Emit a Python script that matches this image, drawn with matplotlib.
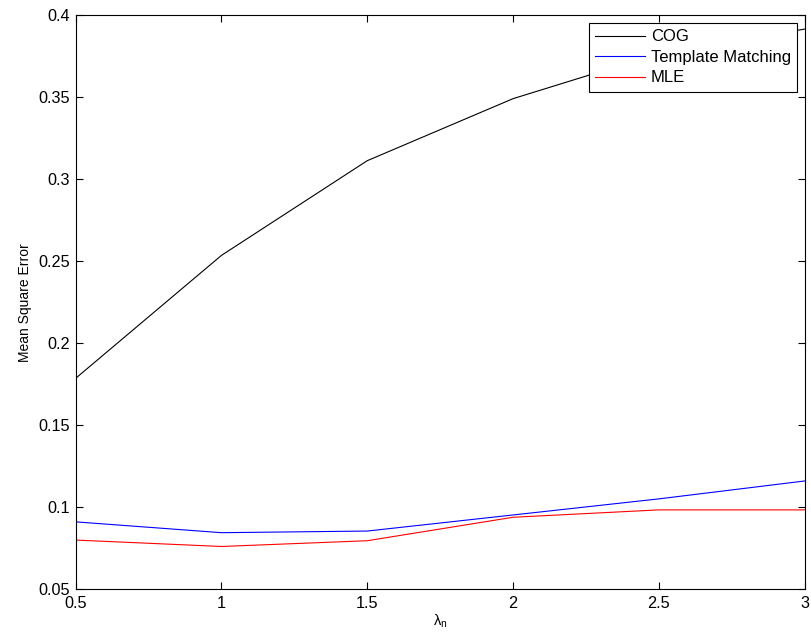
import matplotlib
matplotlib.use("Agg")
import matplotlib.pyplot as plt

plt.rcParams['font.family'] = ['Liberation Sans', 'DejaVu Sans']
plt.rcParams['mathtext.fontset'] = 'custom'
plt.rcParams['mathtext.rm'] = 'Liberation Sans'
plt.rcParams['mathtext.it'] = 'Liberation Sans'

lam = [0.5, 1.0, 1.5, 2.0, 2.5, 3.0]
cog = [0.1786, 0.2535, 0.3112, 0.3490, 0.3765, 0.3914]
template = [0.0911, 0.0845, 0.0855, 0.0953, 0.1051, 0.1160]
mle = [0.0800, 0.0761, 0.0796, 0.0939, 0.0984, 0.0984]
series_names = ['COG', 'Template Matching', 'MLE']
xticks = [0.5, 1, 1.5, 2, 2.5, 3]
xticklabels = ['0.5', '1', '1.5', '2', '2.5', '3']
yticks = [0.05, 0.1, 0.15, 0.2, 0.25, 0.3, 0.35, 0.4]
yticklabels = ['0.05', '0.1', '0.15', '0.2', '0.25', '0.3', '0.35', '0.4']

fig = plt.figure(figsize=(8.12, 6.39), dpi=100)
ax = fig.add_axes([75.7/812, 1-589.3/639, (804.5-75.7)/812, (589.3-15)/639])

ax.plot(lam, cog, color='black', lw=0.8, label=series_names[0])
ax.plot(lam, template, color='blue', lw=0.8, label=series_names[1])
ax.plot(lam, mle, color='red', lw=0.8, label=series_names[2])

ax.set_xlim(0.5, 3)
ax.set_ylim(0.05, 0.4)
ax.set_xticks(xticks)
ax.set_xticklabels(xticklabels)
ax.set_yticks(yticks)
ax.set_yticklabels(yticklabels)
ax.tick_params(direction='in', top=True, right=True, length=5, width=0.8,
               labelsize=11.7)
ax.tick_params(axis='x', pad=5)
ax.tick_params(axis='y', pad=4)
for s in ax.spines.values():
    s.set_linewidth(0.8)

ax.set_xlabel(r'$\mathregular{\lambda_n}$', fontsize=10.5, labelpad=1)
ax.set_ylabel('Mean Square Error', fontsize=10, labelpad=5)

leg = ax.legend(loc='upper right', bbox_to_anchor=(0.990, 0.986), borderaxespad=0,
                fontsize=12, fancybox=False, framealpha=1, edgecolor='black',
                handlelength=3.0, handletextpad=0.35, labelspacing=0.33,
                borderpad=0.38)
leg.get_frame().set_linewidth(0.8)

fig.savefig('out.png', dpi=100)
